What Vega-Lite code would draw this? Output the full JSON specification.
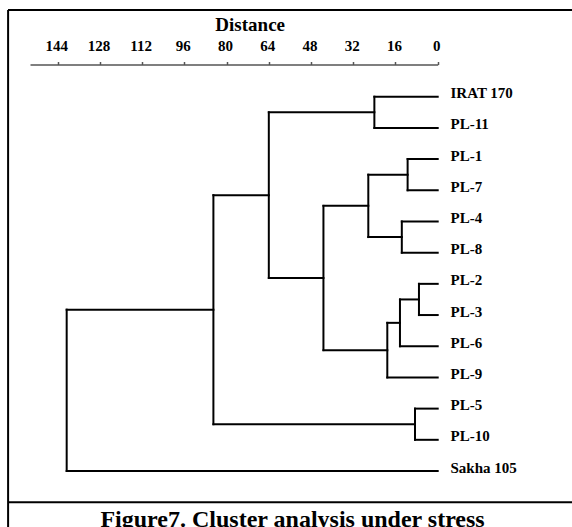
{
  "$schema": "https://vega.github.io/schema/vega-lite/v6.json",
  "autosize": "none",
  "width": 564,
  "height": 517,
  "padding": {"left": 8, "top": 10, "right": 0, "bottom": 0},
  "background": "white",
  "config": {"view": {"stroke": null}, "font": "Liberation Serif"},
  "datasets": {
    "segments": [
      {"d1": 0, "d2": 24.0, "y1": 0, "y2": 0},
      {"d1": 0, "d2": 24.0, "y1": 1, "y2": 1},
      {"d1": 0, "d2": 11.4, "y1": 2, "y2": 2},
      {"d1": 0, "d2": 11.4, "y1": 3, "y2": 3},
      {"d1": 0, "d2": 13.6, "y1": 4, "y2": 4},
      {"d1": 0, "d2": 13.6, "y1": 5, "y2": 5},
      {"d1": 0, "d2": 7.1, "y1": 6, "y2": 6},
      {"d1": 0, "d2": 7.1, "y1": 7, "y2": 7},
      {"d1": 0, "d2": 14.3, "y1": 8, "y2": 8},
      {"d1": 0, "d2": 19.1, "y1": 9, "y2": 9},
      {"d1": 0, "d2": 8.6, "y1": 10, "y2": 10},
      {"d1": 0, "d2": 8.6, "y1": 11, "y2": 11},
      {"d1": 0, "d2": 140.6, "y1": 12, "y2": 12},
      {"d1": 24.0, "d2": 64.0, "y1": 0.5, "y2": 0.5},
      {"d1": 11.4, "d2": 26.3, "y1": 2.5, "y2": 2.5},
      {"d1": 13.6, "d2": 26.3, "y1": 4.5, "y2": 4.5},
      {"d1": 26.3, "d2": 43.3, "y1": 3.5, "y2": 3.5},
      {"d1": 7.1, "d2": 14.3, "y1": 6.5, "y2": 6.5},
      {"d1": 14.3, "d2": 19.1, "y1": 7.25, "y2": 7.25},
      {"d1": 19.1, "d2": 43.3, "y1": 8.125, "y2": 8.125},
      {"d1": 43.3, "d2": 64.0, "y1": 5.8125, "y2": 5.8125},
      {"d1": 64.0, "d2": 85.0, "y1": 3.15625, "y2": 3.15625},
      {"d1": 8.6, "d2": 85.0, "y1": 10.5, "y2": 10.5},
      {"d1": 85.0, "d2": 140.6, "y1": 6.828125, "y2": 6.828125},
      {"d1": 24.0, "d2": 24.0, "y1": 0, "y2": 1},
      {"d1": 11.4, "d2": 11.4, "y1": 2, "y2": 3},
      {"d1": 13.6, "d2": 13.6, "y1": 4, "y2": 5},
      {"d1": 26.3, "d2": 26.3, "y1": 2.5, "y2": 4.5},
      {"d1": 7.1, "d2": 7.1, "y1": 6, "y2": 7},
      {"d1": 14.3, "d2": 14.3, "y1": 6.5, "y2": 8},
      {"d1": 19.1, "d2": 19.1, "y1": 7.25, "y2": 9},
      {"d1": 43.3, "d2": 43.3, "y1": 3.5, "y2": 8.125},
      {"d1": 64.0, "d2": 64.0, "y1": 0.5, "y2": 5.8125},
      {"d1": 8.6, "d2": 8.6, "y1": 10, "y2": 11},
      {"d1": 85.0, "d2": 85.0, "y1": 3.15625, "y2": 10.5},
      {"d1": 140.6, "d2": 140.6, "y1": 6.828125, "y2": 12}
    ],
    "leaves": [
      {"label": "IRAT 170", "d1": 0, "y1": 0},
      {"label": "PL-11", "d1": 0, "y1": 1},
      {"label": "PL-1", "d1": 0, "y1": 2},
      {"label": "PL-7", "d1": 0, "y1": 3},
      {"label": "PL-4", "d1": 0, "y1": 4},
      {"label": "PL-8", "d1": 0, "y1": 5},
      {"label": "PL-2", "d1": 0, "y1": 6},
      {"label": "PL-3", "d1": 0, "y1": 7},
      {"label": "PL-6", "d1": 0, "y1": 8},
      {"label": "PL-9", "d1": 0, "y1": 9},
      {"label": "PL-5", "d1": 0, "y1": 10},
      {"label": "PL-10", "d1": 0, "y1": 11},
      {"label": "Sakha 105", "d1": 0, "y1": 12}
    ],
    "caption": [
      {"text": "Figure7. Cluster analysis under stress"}
    ]
  },
  "layer": [
    {
      "data": {"name": "segments"},
      "mark": {"type": "rule", "color": "black", "strokeWidth": 2, "strokeCap": "square"},
      "encoding": {
        "x": {
          "field": "d1",
          "type": "quantitative",
          "scale": {"domain": [0, 154.5], "range": [429.7, 22], "zero": false, "nice": false},
          "axis": {
            "orient": "top",
            "offset": -54.5,
            "values": [0, 16, 32, 48, 64, 80, 96, 112, 128, 144],
            "title": "Distance",
            "titleFont": "Liberation Serif",
            "titleFontSize": 19,
            "titleFontWeight": "bold",
            "titleColor": "black",
            "titleX": 241.7,
            "titleY": -34.5,
            "titleAlign": "center",
            "titleBaseline": "alphabetic",
            "labelFont": "Liberation Serif",
            "labelFontSize": 15,
            "labelFontWeight": "bold",
            "labelColor": "black",
            "labelBaseline": "alphabetic",
            "labelPadding": 11.5,
            "labelOffset": -1.5,
            "labelFlush": false,
            "labelOverlap": false,
            "tickSize": 3,
            "tickColor": "#555555",
            "tickWidth": 1.5,
            "domainColor": "#555555",
            "domainWidth": 1.5,
            "grid": false
          }
        },
        "x2": {"field": "d2"},
        "y": {
          "field": "y1",
          "type": "quantitative",
          "scale": {"domain": [0, 12], "range": [86.7, 461], "zero": false, "nice": false},
          "axis": null
        },
        "y2": {"field": "y2"}
      }
    },
    {
      "data": {"name": "leaves"},
      "mark": {"type": "text", "align": "left", "baseline": "middle", "dx": 12.8, "dy": -3.5, "font": "Liberation Serif", "fontSize": 15, "fontWeight": "bold", "color": "black"},
      "encoding": {
        "x": {"field": "d1", "type": "quantitative"},
        "y": {"field": "y1", "type": "quantitative"},
        "text": {"field": "label", "type": "nominal"}
      }
    },
    {
      "data": {"name": "caption"},
      "mark": {"type": "rule", "color": "black", "strokeWidth": 2},
      "encoding": {
        "y": {"datum": 13}
      }
    },
    {
      "data": {"name": "caption"},
      "mark": {"type": "rule", "color": "black", "strokeWidth": 2},
      "encoding": {
        "y": {"datum": -2.78}
      }
    },
    {
      "data": {"name": "caption"},
      "mark": {"type": "rule", "color": "black", "strokeWidth": 2},
      "encoding": {
        "x": {"datum": 162.8}
      }
    },
    {
      "data": {"name": "caption"},
      "mark": {"type": "text", "align": "center", "baseline": "alphabetic", "font": "Liberation Serif", "fontSize": 24, "fontWeight": "bold", "color": "black"},
      "encoding": {
        "x": {"datum": 55.0},
        "y": {"datum": 13.8},
        "text": {"field": "text", "type": "nominal"}
      }
    }
  ]
}
